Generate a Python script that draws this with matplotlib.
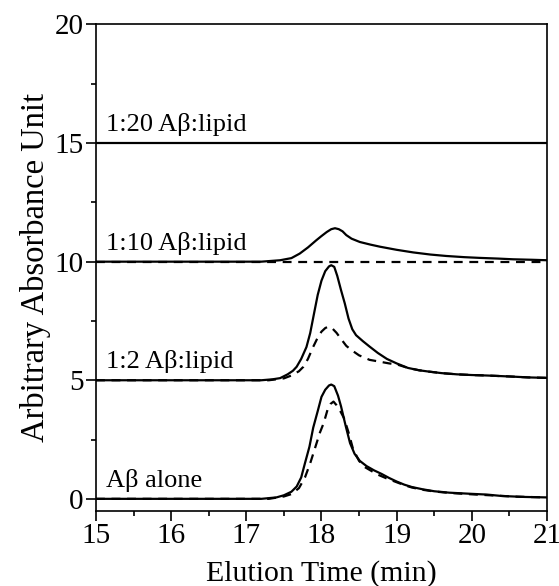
import matplotlib
matplotlib.use("Agg")
import matplotlib.pyplot as plt
from matplotlib.ticker import MultipleLocator

plt.rcParams['font.family'] = ['Liberation Serif', 'DejaVu Serif']

# ---- data (raw absorbance, before vertical offset) ----
alone_t = [15.0, 17.2, 17.4, 17.5, 17.6, 17.67, 17.73, 17.78, 17.84, 17.89, 17.95, 18.0, 18.05, 18.1,
           18.13, 18.17, 18.22, 18.26, 18.32, 18.38, 18.44, 18.51, 18.6, 18.7, 18.8, 18.9, 19.0, 19.1,
           19.2, 19.35, 19.5, 19.7, 20.0, 20.2, 20.4, 20.7, 21.0]
alone_solid = [0, 0, 0.06, 0.15, 0.3, 0.52, 0.9, 1.5, 2.2, 3.0, 3.7, 4.3, 4.6, 4.78,
               4.82, 4.75, 4.35, 3.9, 3.1, 2.35, 1.9, 1.6, 1.38, 1.2, 1.05, 0.88, 0.73, 0.6,
               0.5, 0.4, 0.32, 0.26, 0.21, 0.18, 0.12, 0.08, 0.06]

alone_dash_t = [15.0, 17.3, 17.5, 17.6, 17.7, 17.78, 17.85, 17.92, 17.98, 18.03, 18.08, 18.12, 18.16,
                18.2, 18.25, 18.3, 18.36, 18.42, 18.5, 18.57, 18.64, 18.75, 18.86, 19.0, 19.1, 19.2,
                19.35, 19.5, 19.7, 20.0, 20.3, 20.6, 21.0]
alone_dash = [0, 0, 0.1, 0.2, 0.45, 0.9, 1.5, 2.2, 2.8, 3.2, 3.75, 4.0, 4.1,
              3.95, 3.7, 3.4, 2.8, 2.1, 1.6, 1.35, 1.22, 1.02, 0.87, 0.7, 0.58, 0.48,
              0.38, 0.31, 0.25, 0.19, 0.14, 0.09, 0.06]

r2_t = [15.0, 17.2, 17.35, 17.45, 17.55, 17.62, 17.67, 17.73, 17.8, 17.85, 17.9, 17.95, 18.0, 18.05,
        18.1, 18.13, 18.17, 18.21, 18.26, 18.31, 18.36, 18.41, 18.46, 18.55, 18.64, 18.75, 18.87,
        19.0, 19.15, 19.3, 19.44, 19.6, 19.8, 20.0, 20.2, 20.5, 20.75, 21.0]
r2_solid = [0, 0, 0.04, 0.09, 0.25, 0.4, 0.57, 0.9, 1.4, 1.99, 2.8, 3.6, 4.2, 4.6,
            4.8, 4.85, 4.78, 4.4, 3.8, 3.24, 2.6, 2.15, 1.9, 1.65, 1.42, 1.15, 0.9,
            0.71, 0.52, 0.42, 0.36, 0.3, 0.25, 0.22, 0.2, 0.16, 0.12, 0.1]

r2_dash_t = [15.0, 17.3, 17.5, 17.6, 17.7, 17.76, 17.82, 17.89, 17.95, 18.0, 18.05, 18.09, 18.14,
             18.2, 18.27, 18.33, 18.4, 18.5, 18.64, 18.78, 18.9, 19.0, 19.15, 19.3, 19.44, 19.6,
             19.8, 20.0, 20.2, 20.5, 20.75, 21.0]
r2_dash = [0, 0, 0.08, 0.2, 0.38, 0.57, 0.9, 1.41, 1.8, 2.05, 2.2, 2.26, 2.2,
           2.0, 1.7, 1.45, 1.27, 1.05, 0.86, 0.78, 0.71, 0.67, 0.52, 0.42, 0.36, 0.3,
           0.25, 0.22, 0.2, 0.16, 0.12, 0.1]

r10_t = [15.0, 17.2, 17.45, 17.6, 17.71, 17.82, 17.93, 18.0, 18.07, 18.13, 18.18, 18.23, 18.28,
         18.33, 18.4, 18.51, 18.65, 18.78, 19.0, 19.22, 19.45, 19.66, 19.9, 20.1, 20.35, 20.55,
         20.8, 21.0]
r10_solid = [0, 0, 0.06, 0.15, 0.34, 0.6, 0.9, 1.08, 1.25, 1.37, 1.41, 1.37, 1.28,
             1.12, 0.97, 0.83, 0.72, 0.63, 0.5, 0.39, 0.3, 0.24, 0.19, 0.16, 0.13, 0.1,
             0.08, 0.06]
r10_dash_t = [15.0, 21.0]
r10_dash = [0.0, 0.0]

r20_t = [15.0, 21.0]
r20_solid = [0.0, 0.0]

offsets = [0, 5, 10, 15]
labels = ["A\u03b2 alone", "1:2 A\u03b2:lipid", "1:10 A\u03b2:lipid", "1:20 A\u03b2:lipid"]

fig = plt.figure(figsize=(5.59, 5.86), dpi=100)
ax = fig.add_axes([0.1717, 0.1285, 0.9785 - 0.1717, 0.9582 - 0.1285])

lw = 1.6
dash = (0, (4, 3))

def sh(vals, off):
    return [v + off for v in vals]

ax.plot(alone_t, sh(alone_solid, offsets[0]), color='black', lw=lw)
ax.plot(alone_dash_t, sh(alone_dash, offsets[0]), color='black', lw=lw, ls=dash)
ax.plot(r2_t, sh(r2_solid, offsets[1]), color='black', lw=lw)
ax.plot(r2_dash_t, sh(r2_dash, offsets[1]), color='black', lw=lw, ls=dash)
ax.plot(r10_t, sh(r10_solid, offsets[2]), color='black', lw=lw)
ax.plot(r10_dash_t, sh(r10_dash, offsets[2]), color='black', lw=lw, ls=dash)
ax.plot(r20_t, sh(r20_solid, offsets[3]), color='black', lw=lw)

for off, lab in zip(offsets, labels):
    ax.text(15.13, off + 0.5, lab, fontsize=19, ha='left', va='baseline')

ax.set_xlim(15, 21)
ax.set_ylim(-0.5, 20)
ax.xaxis.set_major_locator(MultipleLocator(1))
ax.xaxis.set_minor_locator(MultipleLocator(0.5))
ax.yaxis.set_major_locator(MultipleLocator(5))
ax.yaxis.set_minor_locator(MultipleLocator(2.5))
ax.tick_params(which='major', direction='out', length=7, width=1.2, labelsize=21, pad=2)
ax.tick_params(which='minor', direction='out', length=3.5, width=1.2)
for s in ax.spines.values():
    s.set_linewidth(1.2)

ax.set_xlabel("Elution Time (min)", fontsize=21.5, labelpad=8)
ax.set_ylabel("Arbitrary Absorbance Unit", fontsize=23.5, labelpad=2)

fig.savefig("out.png", dpi=100)
